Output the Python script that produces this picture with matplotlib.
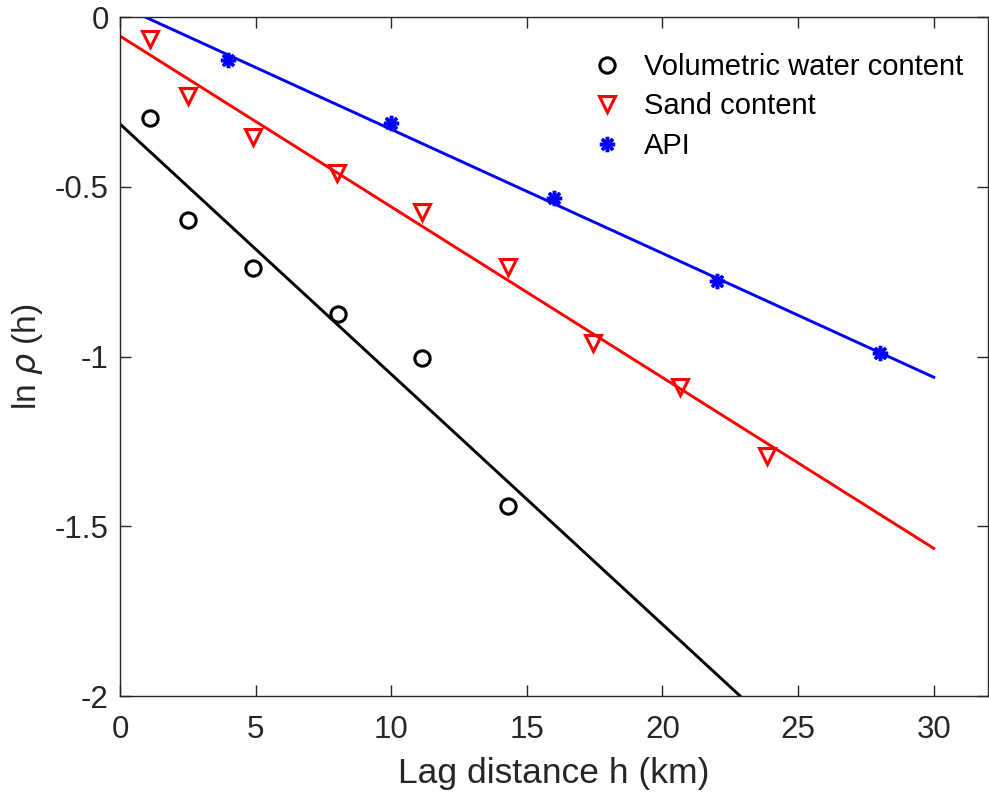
import matplotlib
matplotlib.use("Agg")
import matplotlib.pyplot as plt
import numpy as np

plt.rcParams['font.family'] = ['Liberation Sans', 'DejaVu Sans']

# Data
vwc_h = [1.1, 2.5, 4.9, 8.05, 11.15, 14.3]
vwc_ln = [-0.297, -0.598, -0.739, -0.875, -1.004, -1.44]
sand_h = [1.1, 2.5, 4.9, 8.0, 11.15, 14.3, 17.45, 20.65, 23.85]
sand_ln = [-0.065, -0.233, -0.353, -0.46, -0.574, -0.736, -0.96, -1.09, -1.293]
api_h = [4.0, 10.0, 16.0, 22.0, 28.0]
api_ln = [-0.127, -0.312, -0.533, -0.778, -0.99]

# Fitted lines: (intercept, slope)
vwc_fit = (-0.315, -0.0737)
sand_fit = (-0.056, -0.0503)
api_fit = (0.034, -0.0365)
fit_x = [0, 30]

labels = ['Volumetric water content', 'Sand content', 'API']
xticks = [0, 5, 10, 15, 20, 25, 30]
yticks = [0, -0.5, -1, -1.5, -2]
ytick_labels = ['0', '-0.5', '-1', '-1.5', '-2']

fig = plt.figure(figsize=(9.89, 7.96), dpi=100)
ax = fig.add_axes([0.1213, 0.1256, 0.8777, 0.853])

fx = np.array(fit_x, dtype=float)
for fit, c in [(vwc_fit, 'black'), (sand_fit, 'red'), (api_fit, 'blue')]:
    ax.plot(fx, fit[0] + fit[1] * fx, color=c, lw=2.1, zorder=2)

ax.plot(vwc_h, vwc_ln, 'o', ms=11, mfc='none', mec='black', mew=2.2, ls='none', label=labels[0], zorder=3)
ax.plot(sand_h, sand_ln, 'v', ms=12, mfc='none', mec='red', mew=2.2, ls='none', label=labels[1], zorder=3)
ax.plot(api_h, api_ln, marker=(8, 2, 0), ms=11, mec='blue', mew=2.5, ls='none', label=labels[2], zorder=3)

ax.set_xlim(0, 32)
ax.set_ylim(-2, 0)
ax.set_xticks(xticks)
ax.set_yticks(yticks)
ax.set_yticklabels(ytick_labels)
ax.tick_params(direction='in', length=8, width=1, labelsize=22.5, colors='#262626',
               top=True, right=True)
ax.tick_params(axis='x', pad=14)
ax.tick_params(axis='y', pad=8)
for s in ax.spines.values():
    s.set_color('#262626')
    s.set_linewidth(1)

ax.set_xlabel('Lag distance h (km)', fontsize=25.5, color='#262626', labelpad=8)
ax.set_ylabel(r'ln $\rho$ (h)', fontsize=24, color='#262626', labelpad=7)

leg = ax.legend(loc='upper left', bbox_to_anchor=(0.536, 0.947), frameon=False, fontsize=21,
                handletextpad=0.5, handlelength=1.5, borderaxespad=0, borderpad=0,
                labelspacing=0.39)

fig.savefig('out.png', dpi=100)
